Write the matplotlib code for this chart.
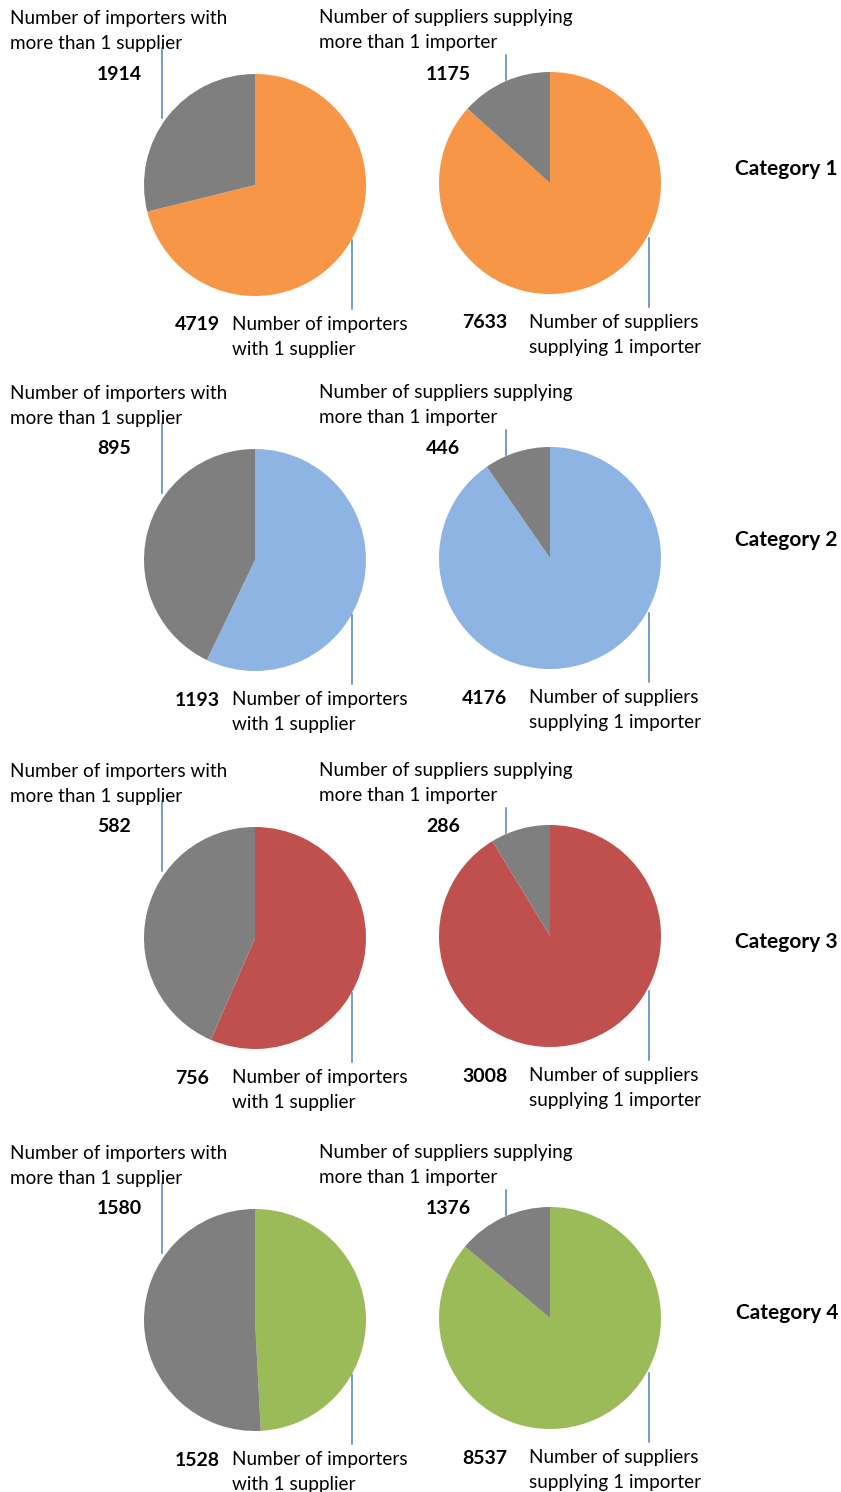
import matplotlib
matplotlib.use('Agg')
import matplotlib.pyplot as plt

plt.rcParams['font.family'] = ['Lato', 'DejaVu Sans']

# data
categories = ['Category 1', 'Category 2', 'Category 3', 'Category 4']
importers_one = [4719, 1193, 756, 1528]
importers_multi = [1914, 895, 582, 1580]
suppliers_one = [7633, 4176, 3008, 8537]
suppliers_multi = [1175, 446, 286, 1376]

row_colors = ['#F79646', '#8DB4E2', '#C0504D', '#9BBB59']
gray = '#7F7F7F'
line_color = '#4F81BD'

W, H = 841, 1492
fig = plt.figure(figsize=(W / 100, H / 100), dpi=100)
ax = fig.add_axes([0, 0, 1, 1])

# layout in pixels from the top
row_y = [185, 560, 938, 1320]
cat_y = [169, 540, 942, 1313]
left_x, right_x = 255, 550
R = 111
fs = 13.6
fs_bold = 14
ls = 1.56


def draw_pie(cx, cy, one, multi, color, top_txt, bot_txt, left):
    ax.pie([one, multi], colors=[color, gray], startangle=90, counterclock=False,
           center=(cx, cy), radius=R, wedgeprops=dict(linewidth=0))
    if left:
        tx, lx, ly0, ly1, nx, ny = cx - 245, cx - 93, 137, 67, cx - 158, 111
        bx, bn, bt = cx + 97, cx - 80, cx - 23
        tmid = 154
    else:
        tx, lx, ly0, ly1, nx, ny = cx - 231, cx - 44, 128, 103, cx - 124, 109
        bx, bn, bt = cx + 99, cx - 88, cx - 21
        tmid = 153
    # top label (gray slice)
    ax.text(tx, cy + tmid, top_txt, fontsize=fs, ha='left', va='center', linespacing=ls)
    ax.plot([lx, lx], [cy + ly0, cy + ly1], color=line_color, lw=1.1)
    ax.text(nx, cy + ny, str(multi), fontsize=fs_bold, fontweight='bold', ha='left', va='center')
    # bottom label (coloured slice)
    ax.plot([bx, bx], [cy - 55, cy - 124], color=line_color, lw=1.1)
    ax.text(bn, cy - 140, str(one), fontsize=fs_bold, fontweight='bold', ha='left', va='center')
    ax.text(bt, cy - 152, bot_txt, fontsize=fs, ha='left', va='center', linespacing=ls)


for i, cat in enumerate(categories):
    cy = H - row_y[i]
    draw_pie(left_x, cy, importers_one[i], importers_multi[i], row_colors[i],
             'Number of importers with\nmore than 1 supplier',
             'Number of importers\nwith 1 supplier', True)
    draw_pie(right_x, cy + 2, suppliers_one[i], suppliers_multi[i], row_colors[i],
             'Number of suppliers supplying\nmore than 1 importer',
             'Number of suppliers\nsupplying 1 importer', False)
    ax.text(838, H - cat_y[i], cat, fontsize=15, fontweight='bold', ha='right', va='center')

ax.set_xlim(0, W)
ax.set_ylim(0, H)
ax.set_aspect('auto')
ax.axis('off')

fig.savefig('out.png', dpi=100, facecolor='white')
